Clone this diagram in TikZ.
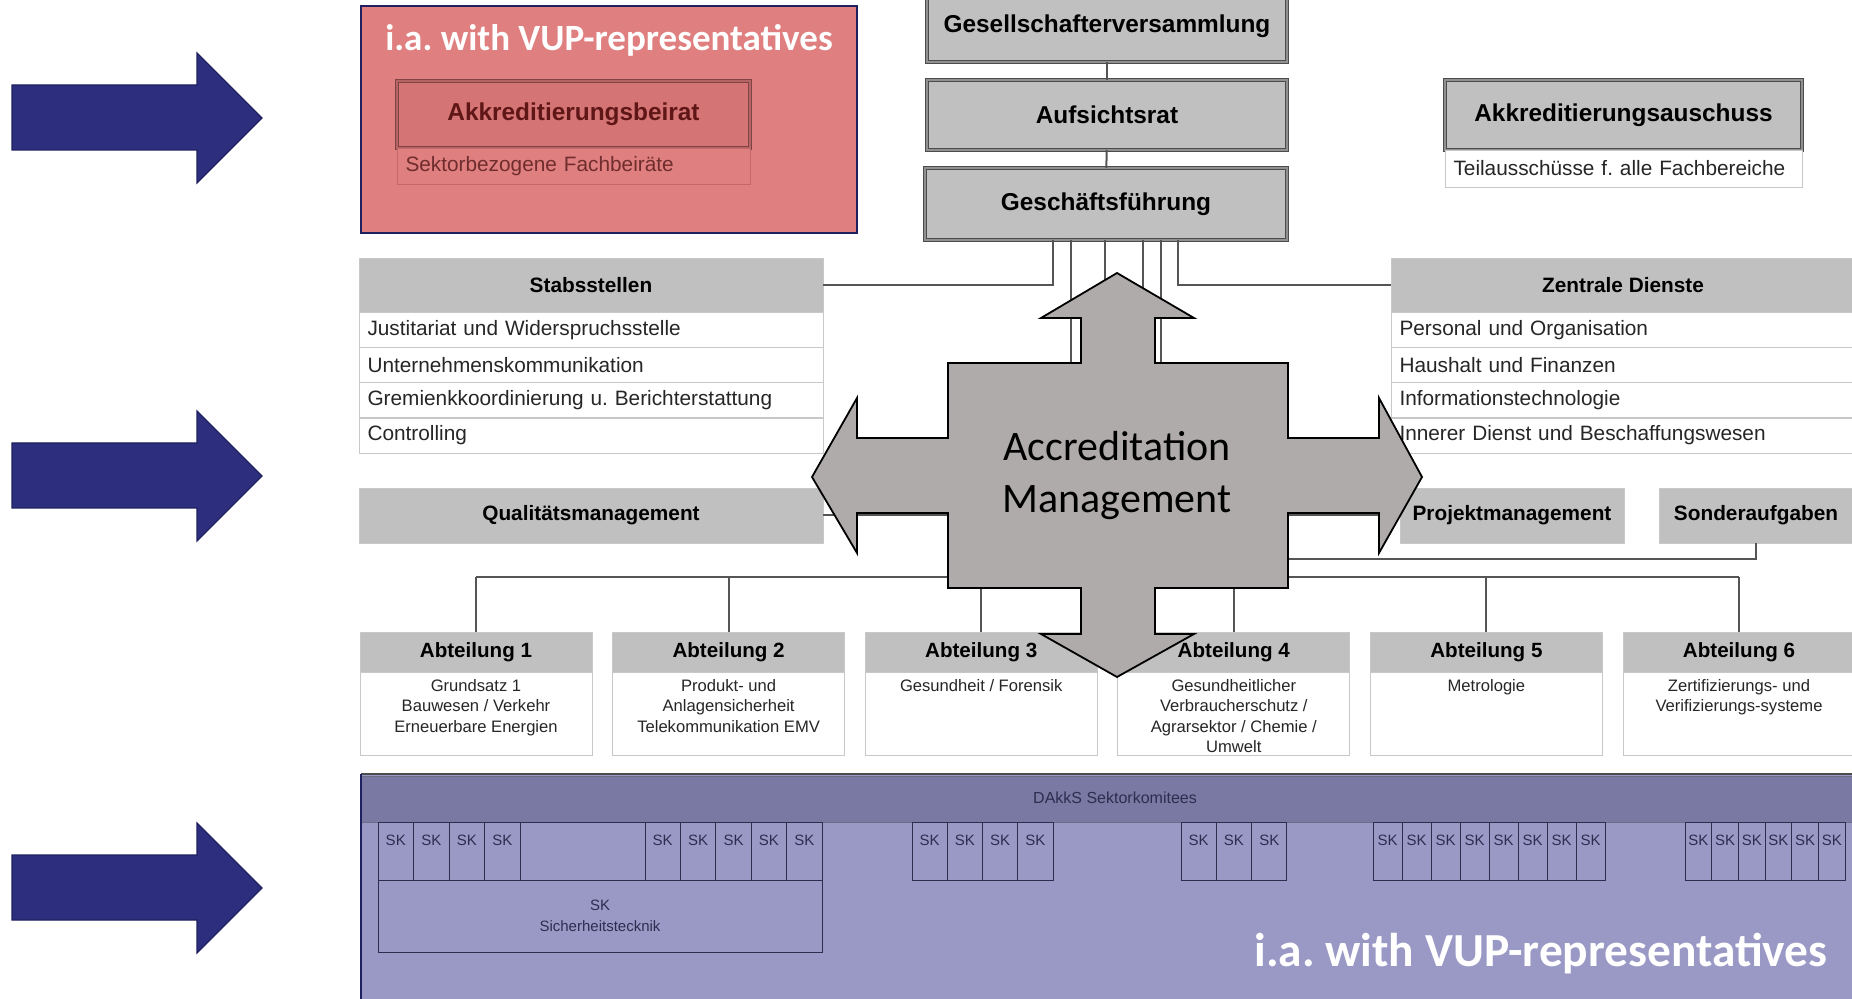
\documentclass[tikz,border=0pt]{standalone}
\usepackage{fontspec}
\setmainfont{Liberation Sans}
\newfontfamily\calibri{Carlito}
\usetikzlibrary{positioning}
\frenchspacing

\definecolor{chartgray}{RGB}{192,192,192}
\definecolor{linegray}{RGB}{85,85,85}
\definecolor{rowline}{RGB}{200,200,200}
\definecolor{arrowblue}{RGB}{45,47,126}
\definecolor{navy}{RGB}{31,32,96}
\definecolor{vupred}{RGB}{224,127,127}
\definecolor{beiratred}{RGB}{213,116,116}
\definecolor{darkred}{RGB}{95,22,22}
\definecolor{fachline}{RGB}{196,104,104}
\definecolor{crossgray}{RGB}{175,171,171}
\definecolor{skpurple}{RGB}{154,153,198}
\definecolor{skhead}{RGB}{122,121,163}
\definecolor{skline}{RGB}{45,45,80}

\tikzset{
  every node/.style={outer sep=0pt},
  px/.style 2 args={minimum width=#1*0.5pt, minimum height=#2*0.5pt},
  conn/.style={draw=linegray, line width=1pt},
  bigbox/.style={draw=black!70, double=chartgray!75!black, double distance=0.7pt,
    line width=0.7pt, fill=chartgray, inner sep=0pt,
    font=\bfseries\fontsize{12.2}{14}\selectfont},
  redbox/.style={bigbox, draw=darkred!80, double=beiratred!85!black, fill=beiratred, text=darkred},
  hdr/.style={draw=rowline, fill=chartgray, inner sep=0pt, font=\bfseries\fontsize{10.4}{12}\selectfont},
  rowbox/.style={draw=rowline, fill=white, inner xsep=4.25pt, inner ysep=0pt,
    minimum height=17.5pt, text width=223.5pt, align=left, text=black!85,
    font=\fontsize{10.4}{12}\selectfont},
  abthdr/.style={hdr, px={232}{40}, font=\bfseries\fontsize{10.3}{12}\selectfont},
  abtbody/.style={draw=rowline, fill=white, px={232}{83}},
  abttext/.style={inner sep=0pt, align=center, text=black!85, font=\fontsize{8.3}{10.25}\selectfont},
  skcell/.style={draw=skline, line width=0.5pt, anchor=north west, inner sep=0pt,
    text height=11.5pt, text depth=17.5pt, text=skline, font=\fontsize{7.5}{9}\selectfont},
  vuplabel/.style={text=white, inner sep=0pt, font=\calibri\bfseries}
}

\begin{document}
\begin{tikzpicture}[x=0.5pt, y=-0.5pt]
  \useasboundingbox (0,0) rectangle (1852,999);
  %\draw[lightgray] (0,0) grid[step=100] (1852,999);

  % arrows on the left
  \foreach \cy in {118,476,888}
    \draw[navy, fill=arrowblue, line width=0.6pt] (12,\cy-33) -- (197,\cy-33) -- (197,\cy-65)
      -- (262,\cy) -- (197,\cy+65) -- (197,\cy+32) -- (12,\cy+32) -- cycle;

  % advisory board
  \draw[navy, line width=1.2pt, fill=vupred] (361,6) rectangle (857,233);
  \node[vuplabel, font=\calibri\bfseries\fontsize{18.5}{22}\selectfont] (vup1) at (609,40) {i.a. with VUP-representatives};
  \node[redbox, px={353}{67}] (beirat) at (573.5,114.5) {Akkreditierungsbeirat};
  \node[rowbox, draw=fachline, fill=vupred, text=darkred!90, anchor=north, minimum height=18pt,
    text width=168pt] (fachb) at (beirat.south) {Sektorbezogene Fachbeiräte};

  % top of the chart
  \node[bigbox, px={360}{72}] (gv) at (1107,26) {Gesellschafterversammlung};
  \node[bigbox, px={360}{70}] (ar) at (1107,115) {Aufsichtsrat};
  \node[bigbox, px={362}{72}] (gf) at (1106,204) {Geschäftsführung};
  \draw[conn] (gv) -- (ar);
  \draw[conn] (ar) -- (gf);

  \node[bigbox, px={357}{70}] (aa) at (1623.5,115) {Akkreditierungsauschuss};
  \node[rowbox, below=0pt of aa, minimum height=18.5pt, text width=170pt] (ta) {Teilausschüsse f. alle Fachbereiche};

  % staff units and central services
  \node[hdr, px={464}{54}] (stab) at (591,285) {Stabsstellen};
  \foreach \t [count=\i] in {Justitariat und Widerspruchsstelle, Unternehmenskommunikation,
      Gremienkkoordinierung u. Berichterstattung, Controlling}
    \node[rowbox, anchor=north] (st\i) at (591,277+35.25*\i) {\t};

  \node[hdr, px={464}{54}] (zd) at (1623,285) {Zentrale Dienste};
  \foreach \t [count=\i] in {Personal und Organisation, Haushalt und Finanzen,
      Informationstechnologie, Innerer Dienst und Beschaffungswesen}
    \node[rowbox, anchor=north] (zd\i) at (1623,277+35.25*\i) {\t};

  \node[hdr, px={464}{55}] (qm) at (591,515.5) {Qualitätsmanagement};
  \node[hdr, px={224}{55}] (pm) at (1512,515.5) {Projektmanagement};
  \node[hdr, px={194}{55}] (sa) at (1756,515.5) {Sonderaufgaben};

  % departments
  \foreach \t [count=\i] in {{Grundsatz 1\\Bauwesen / Verkehr\\Erneuerbare Energien},
      {Produkt- und\\Anlagensicherheit\\Telekommunikation EMV},
      {Gesundheit / Forensik},
      {Gesundheitlicher\\Verbraucherschutz /\\Agrarsektor / Chemie /\\Umwelt},
      {Metrologie},
      {Zertifizierungs- und\\Verifizierungs-systeme}} {
    \node[abthdr] (abt\i) at ({476+252.6*(\i-1)},652) {Abteilung \i};
    \node[abtbody, anchor=north] (abtb\i) at (abt\i.south) {};
    \node[abttext, anchor=north] (abtt\i) at ([yshift=-3.5pt]abt\i.south) {\t};
  }

  % connectors from the management
  \coordinate (p1) at (1053,240);
  \coordinate (p2) at (1071,240);
  \coordinate (p3) at (1105,240);
  \coordinate (p4) at (1143,240);
  \coordinate (p5) at (1161,240);
  \coordinate (p6) at (1178,240);
  \coordinate (bus) at (1105,577);
  \coordinate (sbus) at (1161,559);
  \draw[conn] (p1) |- (stab.east);
  \draw[conn] (p6) |- (zd.west);
  \draw[conn] (p2) |- (qm.east);
  \draw[conn] (p4) |- (pm.west);
  \draw[conn] (p5) -- (sbus) -| (sa.south);
  \draw[conn] (p3) -- (bus);
  \draw[conn] (abt1.north |- bus) -- (abt6.north |- bus);
  \foreach \i in {1,...,6}
    \draw[conn] (abt\i.north |- bus) -- (abt\i.north);

  % accreditation management
  \draw[black, line width=0.9pt, fill=crossgray, line join=miter]
    (1117,273) -- (1194,318) -- (1155,318) -- (1155,363) -- (1288,363) -- (1288,438)
    -- (1379,438) -- (1379,398) -- (1422,477) -- (1379,553) -- (1379,513) -- (1288,513)
    -- (1288,588) -- (1155,588) -- (1155,634) -- (1194,634) -- (1117,677) -- (1041,634)
    -- (1081,634) -- (1081,588) -- (948,588) -- (948,513) -- (857,513) -- (857,553)
    -- (812,477) -- (857,398) -- (857,438) -- (948,438) -- (948,363) -- (1081,363)
    -- (1081,318) -- (1041,318) -- cycle;
  \node[align=center, inner sep=0pt, font=\calibri\fontsize{21}{26}\selectfont] (acc) at (1117,476) {Accreditation\\Management};

  % sector committees
  \fill[skpurple] (361,774) rectangle (1870,1010);
  \draw[skline!70, fill=skhead] (361,776) rectangle (1870,822);
  \draw[gray!60!black, line width=1.2pt] (361,774) -- (1870,774);
  \draw[navy, line width=1.2pt] (361,774) -- (361,1010);
  \node[inner sep=0pt, text=skline, font=\fontsize{8}{10}\selectfont] (dakks) at (1115,798) {DAkkS Sektorkomitees};

  \foreach \gx/\w/\n [count=\g] in {378/35.5/4, 645/35.4/5, 912/35.25/4, 1181/35.3/3, 1373/29/8, 1685/26.7/6}
    \foreach \i in {1,...,\n}
      \node[skcell, minimum width=\w*0.5pt] (sk\g-\i) at ({\gx+(\i-1)*\w},822) {SK};
  \node[skcell, minimum width=62.5pt] (skgap) at (520,822) {};
  \node[draw=skline, line width=0.5pt, anchor=north west, minimum width=222pt, minimum height=36pt,
    inner sep=0pt, align=center, text=skline, font=\fontsize{7.5}{10.5}\selectfont] (sksich) at (378,880) {SK\\Sicherheitstecknik};

  \node[vuplabel, font=\calibri\bfseries\fontsize{23.7}{28}\selectfont] (vup2) at (1541,954) {i.a. with VUP-representatives};
\end{tikzpicture}
\end{document}
